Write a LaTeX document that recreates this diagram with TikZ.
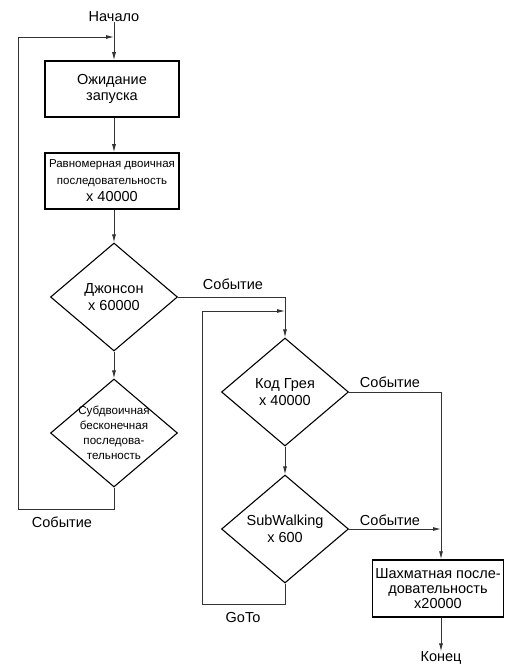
\documentclass[tikz,border=0pt]{standalone}
\usepackage{fontspec}
\setmainfont{Liberation Sans}
\usetikzlibrary{shapes.geometric,arrows.meta}
\begin{document}
\begin{tikzpicture}[x=1pt,y=-1pt,
  conn/.style={draw=black!80,line width=0.9pt,-{Latex[length=8pt,width=4pt]}},
  stepbox/.style={draw,rectangle,line width=1.5pt,inner sep=0pt,align=center,font=\fontsize{14.5}{16.5}\selectfont},
  dia/.style={draw,diamond,line width=1.1pt,inner sep=0pt,minimum width=127pt,minimum height=108pt,align=center,font=\fontsize{14.5}{17}\selectfont},
  lbl/.style={inner sep=0pt,font=\fontsize{14.5}{17}\selectfont}
]
\useasboundingbox (0,0) rectangle (504,668);
\node[lbl] (start) at (114,17) {Начало};
\node[stepbox,minimum width=134pt,minimum height=56pt] (b1) at (112,89) {Ожидание\\запуска};
\node[stepbox,minimum width=134pt,minimum height=56pt,font=\fontsize{14.5}{17}\selectfont] (b2) at (112,181) {{\fontsize{11.5}{17}\selectfont Равномерная двоичная}\\{\fontsize{11.5}{17}\selectfont последовательность}\\x 40000};
\node[dia] (d1) at (114,297) {Джонсон\\x 60000};
\node[dia] (d2) at (114,433) {};
\node[lbl,align=center,font=\fontsize{11.6}{15}\selectfont] (d2t) at (d2.center) {Субдвоичная\\бесконечная\\последова-\\тельность};
\node[dia] (d3) at (285,392) {Код Грея\\x 40000};
\node[dia] (d4) at (285,529) {SubWalking\\x 600};
\node[stepbox,minimum width=131pt,minimum height=57pt,font=\fontsize{14.5}{15}\selectfont] (b3) at (438,588.5) {Шахматная после-\\довательность\\x20000};
\node[lbl] (end) at (441,658) {Конец};
\node[lbl] (ev1) at (62,522) {Событие};
\node[lbl] (ev2) at (233,284) {Событие};
\node[lbl] (ev3) at (390,382) {Событие};
\node[lbl] (ev4) at (390,520) {Событие};
\node[lbl] (goto) at (243,618) {GoTo};
\coordinate (l1) at (114,509);
\coordinate (l2) at (18,509);
\coordinate (l3) at (18,37);
\coordinate (l4) at (114,37);
\coordinate (g1) at (285,604);
\coordinate (g2) at (202,604);
\coordinate (g3) at (202,311);
\coordinate (g4) at (285,311);
\coordinate (j) at (441,392);
\draw[conn] (start.south) -- (start.south |- b1.north);
\draw[conn] (b1.south -| start) -- (b2.north -| start);
\draw[conn] (b2.south -| start) -- (d1.north);
\draw[conn] (d1.south) -- (d2.north);
\draw[conn] (d2.south) -- (l1) -- (l2) -- (l3) -- (l4);
\draw[conn] (d1.east) -| (d3.north);
\draw[conn] (d3.south) -- (d4.north);
\draw[conn] (d4.south) -- (g1) -- (g2) -- (g3) -- (g4);
\draw[conn] (d3.east) -- (j) -- (j |- b3.north);
\draw[conn] (d4.east) -- (d4.east -| j);
\draw[conn] (b3.south -| j) -- (end.north);
\end{tikzpicture}
\end{document}
